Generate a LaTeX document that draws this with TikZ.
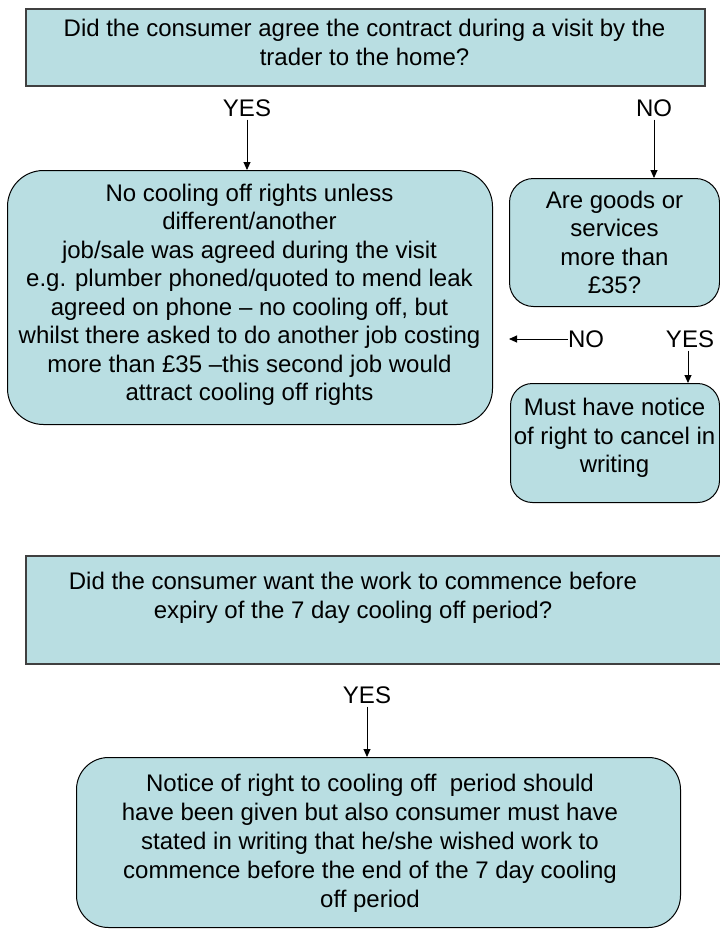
\documentclass[tikz,border=0pt]{standalone}
\usepackage{fontspec}
\setmainfont{Liberation Sans}
\usetikzlibrary{arrows.meta}
\definecolor{boxfill}{RGB}{185,222,226}
\tikzset{
  rectbox/.style={draw=black!75, line width=1.5pt, fill=boxfill, anchor=north west, inner sep=0pt},
  roundbox/.style={draw=black, line width=1pt, fill=boxfill, anchor=north west, inner sep=0pt, rounded corners=#1},
  roundbox/.default=30pt,
  txt/.style={align=center, inner sep=0pt, font=\fontsize{24}{28.5}\selectfont},
  lbl/.style={inner sep=0pt, font=\fontsize{24}{28}\selectfont},
  arr/.style={-{Triangle[length=8pt,width=7pt]}, line width=0.9pt, shorten <=3pt}
}
\begin{document}
\begin{tikzpicture}[x=1pt,y=-1pt]
\useasboundingbox (0,0) rectangle (720,930);
% boxes
\node[rectbox, minimum width=679pt, minimum height=77pt] (q1) at (25,8) {};
\node[roundbox=36pt, minimum width=485pt, minimum height=254pt] (b2) at (7,170) {};
\node[roundbox=24pt, minimum width=210pt, minimum height=128pt] (r1) at (509,178) {};
\node[roundbox=22pt, minimum width=209pt, minimum height=119pt] (must) at (510,383) {};
\node[rectbox, minimum width=700pt, minimum height=108pt] (q2) at (25,555) {};
\node[roundbox=32pt, minimum width=604pt, minimum height=170pt] (b4) at (76,757) {};
% texts
\node[txt] (q1t) at (364.5,42.5) {Did the consumer agree the contract during a visit by the\\trader to the home?};
\node[txt] (b2t) at (249.5,295) {No cooling off rights unless\\different/another\\job/sale was agreed during the visit\\e.g. plumber phoned/quoted to mend leak\\agreed on phone -- no cooling off, but\\whilst there asked to do another job costing\\more than £35 --this second job would\\attract cooling off rights};
\node[txt] (r1t) at (614.5,242.5) {Are goods or\\services\\more than\\£35?};
\node[txt] (mustt) at (614.5,438) {Must have notice\\of right to cancel in\\writing};
\node[txt] (q2t) at (353,598) {Did the consumer want the work to commence before\\expiry of the 7 day cooling off period?};
\node[txt, font=\fontsize{24}{29}\selectfont] (b4t) at (370,843) {Notice of right to cooling off~ period should\\have been given but also consumer must have\\stated in writing that he/she wished work to\\commence before the end of the 7 day cooling\\off period};
% labels
\node[lbl] (yes1) at (247,108) {YES};
\node[lbl] (no1) at (654,108) {NO};
\node[lbl] (no2) at (586,339) {NO};
\node[lbl] (yes2) at (690,339) {YES};
\node[lbl] (yes3) at (367,695) {YES};
% arrows
\draw[arr] (yes1.south) -- (yes1.south |- b2.north);
\draw[arr] (no1.south) -- (no1.south |- r1.north);
\draw[arr, shorten <=0pt] (no2.west) -- (no2.west -| r1.west);
\draw[arr] ([xshift=-2pt]yes2.south) -- ([xshift=-2pt]yes2.south |- must.north);
\draw[arr] (yes3.south) -- (yes3.south |- b4.north);
\end{tikzpicture}
\end{document}
